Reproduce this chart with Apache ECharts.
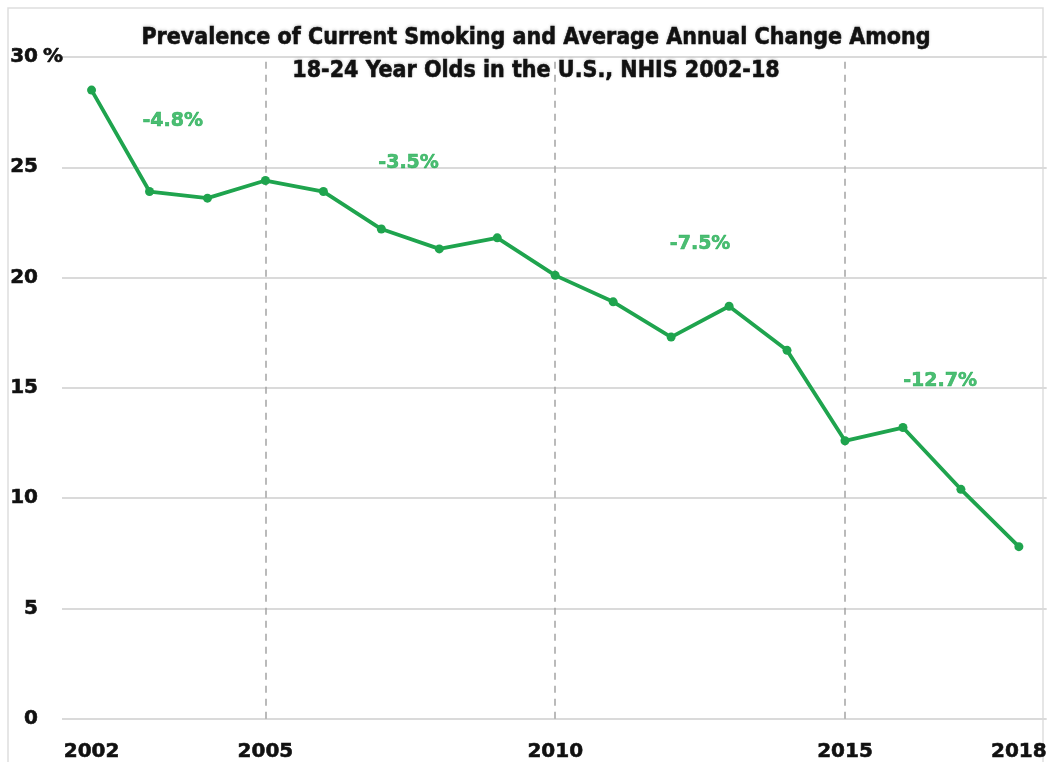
<!DOCTYPE html>
<html>
<head>
<meta charset="utf-8">
<title>Prevalence of Current Smoking, 18-24 Year Olds</title>
<script src="https://cdn.jsdelivr.net/npm/echarts@6/dist/echarts.min.js"></script>
<style>
  html, body { margin: 0; padding: 0; background: #ffffff; }
  #chart { width: 1050px; height: 762px; }
</style>
</head>
<body>
<div id="chart"></div>
<script>
// Survey years and prevalence of current smoking (%)
const years = [2002, 2003, 2004, 2005, 2006, 2007, 2008, 2009, 2010, 2011, 2012, 2013, 2014, 2015, 2016, 2017, 2018];
const prevalence = [28.5, 23.9, 23.6, 24.4, 23.9, 22.2, 21.3, 21.8, 20.1, 18.9, 17.3, 18.7, 16.7, 12.6, 13.2, 10.4, 7.8];

// Labelled x positions and period boundaries
const yearTicks = [2002, 2005, 2010, 2015, 2018];
const periodBreaks = [2005, 2010, 2015];

// Average annual change for each period
const periodChanges = ['-4.8%', '-3.5%', '-7.5%', '-12.7%'];

const titleLines = [
  'Prevalence of Current Smoking and Average Annual Change Among',
  '18-24 Year Olds in the U.S., NHIS 2002-18'
];

const GREEN_LINE = '#1fa44e';
const GREEN_TEXT = '#1fac50';
const INK = '#111111';
const AXIS_FONT = "'DejaVu Sans', 'Liberation Sans', sans-serif";
const TITLE_FONT = "'Liberation Sans Narrow', 'DejaVu Sans Condensed', 'Liberation Sans', sans-serif";

// Where each change label sits in data space (year, percent)
const changeAnchors = [[2003.40, 27.1], [2007.47, 25.2], [2012.50, 21.5], [2016.64, 15.3]];

const chart = echarts.init(document.getElementById('chart'), null, { renderer: 'canvas' });

const boldText = (size, color) => ({
  fontFamily: AXIS_FONT,
  fontWeight: 'bold',
  fontSize: size,
  color: color,
  textBorderColor: color,
  textBorderWidth: 0.6
});

const option = {
  animation: false,
  backgroundColor: '#ffffff',
  grid: { left: 62, right: 3, top: 57, bottom: 43, containLabel: false },
  title: {
    text: titleLines.join('\n'),
    left: 531,
    top: 17,
    textAlign: 'center',
    textStyle: {
      fontFamily: TITLE_FONT,
      fontWeight: 'bold',
      fontSize: 23,
      lineHeight: 33,
      color: INK,
      textBorderColor: INK,
      textBorderWidth: 0.5,
      textShadowColor: 'rgba(0,0,0,0.15)',
      textShadowBlur: 3,
      textShadowOffsetY: -1
    }
  },
  xAxis: {
    type: 'value',
    min: 2001.49,
    max: 2018.48,
    axisLine: { show: false },
    axisTick: { show: false },
    splitLine: { show: false },
    axisLabel: Object.assign({
      customValues: yearTicks,
      margin: 23,
      formatter: v => String(v)
    }, boldText(20, INK))
  },
  yAxis: {
    type: 'value',
    min: 0,
    max: 30,
    interval: 5,
    axisLine: { show: false },
    axisTick: { show: false },
    splitLine: { show: true, lineStyle: { color: '#dadada', width: 2 } },
    axisLabel: Object.assign({
      align: 'right',
      margin: 24
    }, boldText(20, INK))
  },
  series: [
    {
      type: 'line',
      data: years.map((y, i) => [y, prevalence[i]]),
      symbol: 'circle',
      symbolSize: 9,
      lineStyle: { color: GREEN_LINE, width: 3.8 },
      itemStyle: { color: GREEN_LINE },
      z: 5,
      markLine: {
        silent: true,
        symbol: ['none', 'none'],
        label: { show: false },
        lineStyle: { color: '#a4a4a4', type: [7, 6], width: 1.5 },
        data: periodBreaks.map(y => ({ xAxis: y }))
      }
    },
    {
      type: 'scatter',
      silent: true,
      symbolSize: 1,
      itemStyle: { color: 'rgba(0,0,0,0)' },
      data: periodChanges.map((t, i) => ({ name: t, value: changeAnchors[i] })),
      label: Object.assign({
        show: true,
        position: 'inside',
        formatter: '{b}'
      }, boldText(19, GREEN_TEXT)),
      z: 6
    }
  ]
};

chart.setOption(option);

// Percent sign after the top tick value, plus the thin frame
const topY = chart.convertToPixel({ yAxisIndex: 0 }, 30);
chart.setOption({
  graphic: [
    {
      type: 'rect',
      silent: true,
      shape: { x: 8, y: 8, width: 1035, height: 800 },
      style: { fill: 'none', stroke: '#dedede', lineWidth: 1.5 },
      z: -1
    },
    {
      type: 'text',
      silent: true,
      x: 43,
      y: topY,
      style: {
        text: '%',
        fontFamily: AXIS_FONT,
        fontWeight: 'bold',
        fontSize: 20,
        fill: INK,
        stroke: INK,
        lineWidth: 0.6,
        verticalAlign: 'middle',
        align: 'left'
      }
    }
  ]
});
</script>
</body>
</html>
